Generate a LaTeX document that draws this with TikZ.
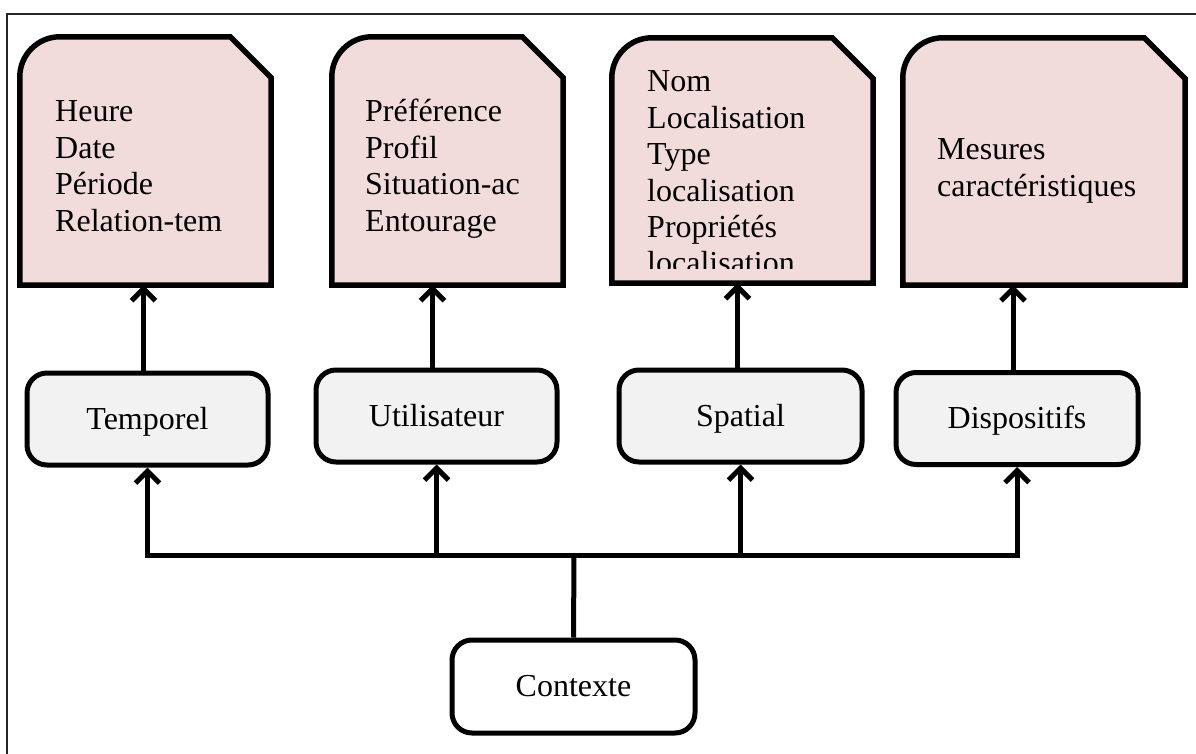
\documentclass[tikz,border=0pt]{standalone}
\usepackage{fontspec}
\setmainfont{Liberation Serif}
\usetikzlibrary{arrows.meta}
\definecolor{pinkfill}{RGB}{242,220,219}
\definecolor{greyfill}{RGB}{242,242,242}
\newcommand\pinkshape[1]{%
  \draw[pinkline] (#1.south west) -- ([yshift=-40pt]#1.north west)
    .. controls ([yshift=-18pt]#1.north west) and ([xshift=18pt]#1.north west) .. ([xshift=40pt]#1.north west)
    -- ([xshift=-41pt]#1.north east) -- ([yshift=-41pt]#1.north east) -- (#1.south east) -- cycle;}
\begin{document}
\begin{tikzpicture}[x=1pt,y=-1pt,
  conn/.style={line width=5pt},
  arr/.style={line width=5pt,-{Straight Barb[length=12pt,width=24pt]}},
  txt/.style={font=\fontsize{32}{36.4}\selectfont, inner sep=0pt},
  midbox/.style={txt, draw, line width=5pt, rounded corners=20pt, fill=greyfill, minimum width=241pt, minimum height=92pt, text height=24pt, text depth=4pt},
  ctxbox/.style={txt, draw, line width=5pt, rounded corners=20pt, fill=white, minimum width=243pt, minimum height=93pt, text height=24pt, text depth=4pt},
  pinkarea/.style={inner sep=0pt, draw=none},
  pinkline/.style={draw, line width=5.5pt, fill=pinkfill, line join=miter},
  pinktext/.style={txt, anchor=base west, align=left},
  frameline/.style={draw=black!85, line width=1.6pt}
]
\useasboundingbox (0,0) rectangle (1196,754);
% frame
\coordinate (fr1) at (1196,14);
\coordinate (fr2) at (7,14);
\coordinate (fr3) at (7,754);
\draw[frameline] (fr1) -- (fr2) -- (fr3);

% pink boxes (areas)
\node[pinkarea, minimum width=251pt, minimum height=248pt] (h1) at (145.5,161) {};
\node[pinkarea, minimum width=231pt, minimum height=248pt] (h2) at (447.5,161) {};
\node[pinkarea, minimum width=261pt, minimum height=245pt] (h3) at (742.5,160.5) {};
\node[pinkarea, minimum width=282pt, minimum height=247pt] (h4) at (1044,161.5) {};
\pinkshape{h1}
\pinkshape{h2}
\pinkshape{h3}
\pinkshape{h4}

\node[pinktext] (t1) at (55,122) {\parbox[t]{210pt}{\raggedright Heure\\Date\\Période\\Relation-tem}};
\node[pinktext] (t2) at (365,122) {\parbox[t]{190pt}{\raggedright Préférence\\Profil\\Situation-ac\\Entourage}};
\begin{scope}
\clip (612,38) rectangle (873,268);
\node[pinktext] (t3) at (647,92) {\parbox[t]{220pt}{\raggedright Nom\\Localisation\\Type\\localisation\\Propriétés\\localisation}};
\end{scope}
\node[pinktext] (t4) at (937,160) {\parbox[t]{240pt}{\raggedright Mesures\\caractéristiques}};

% middle boxes
\node[midbox] (temp) at (147.5,419) {Temporel};
\node[midbox] (util) at (436.5,416) {Utilisateur};
\node[midbox, minimum width=243pt] (spat) at (740.5,416) {Spatial};
\node[midbox, minimum width=242pt] (disp) at (1017,418.5) {Dispositifs};

% contexte
\node[ctxbox] (ctx) at (573.5,686.5) {Contexte};

% arrows middle -> pink
\draw[arr] ([xshift=-4pt]temp.north) -- ([xshift=-4pt]temp.north |- h1.south);
\draw[arr] ([xshift=-4pt]util.north) -- ([xshift=-4pt]util.north |- h2.south);
\draw[arr] ([xshift=-3pt]spat.north) -- ([xshift=-3pt]spat.north |- h3.south);
\draw[arr] ([xshift=-4pt]disp.north) -- ([xshift=-4pt]disp.north |- h4.south);

% bus
\coordinate (bus) at (574,555);
\draw[conn] (ctx.north) -- (bus);
\draw[conn, line cap=rect] (temp.south |- bus) -- (disp.south |- bus);
\draw[arr] (temp.south |- bus) -- (temp.south);
\draw[arr] (util.south |- bus) -- (util.south);
\draw[arr] (spat.south |- bus) -- (spat.south);
\draw[arr] (disp.south |- bus) -- (disp.south);
\end{tikzpicture}
\end{document}
